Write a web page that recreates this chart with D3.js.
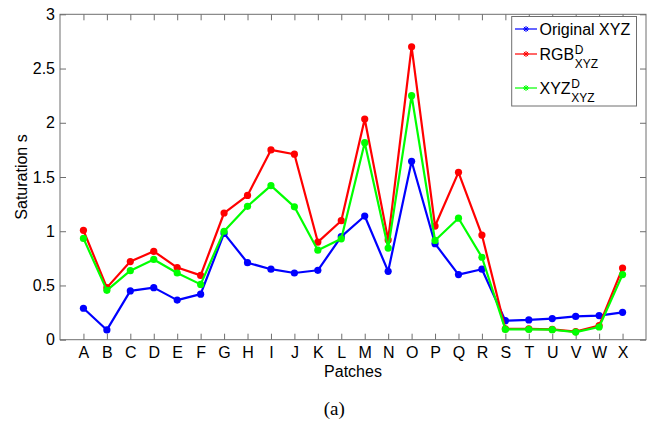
<!DOCTYPE html>
<html><head><meta charset="utf-8">
<script src="https://cdn.jsdelivr.net/npm/d3@7"></script>
<style>body{margin:0;background:#fff}svg{display:block}text{font-family:"Liberation Sans",Arial,sans-serif}</style>
</head><body>
<svg id="c" width="665" height="427"></svg>
<script>
const patches = ["A","B","C","D","E","F","G","H","I","J","K","L","M","N","O","P","Q","R","S","T","U","V","W","X"];
const originalXYZ = [0.29,0.09,0.45,0.48,0.365,0.42,0.98,0.71,0.65,0.615,0.64,0.95,1.14,0.63,1.645,0.885,0.60,0.65,0.175,0.182,0.195,0.215,0.222,0.252];
const rgbDXYZ = [1.008,0.48,0.72,0.815,0.665,0.593,1.168,1.33,1.75,1.71,0.90,1.097,2.034,0.92,2.70,1.048,1.543,0.965,0.10,0.10,0.095,0.075,0.13,0.66];
const xyzDXYZ = [0.934,0.455,0.636,0.74,0.615,0.51,1.0,1.23,1.42,1.225,0.825,0.93,1.816,0.845,2.25,0.915,1.12,0.76,0.095,0.095,0.092,0.07,0.117,0.60];
const yTicks = [0,0.5,1,1.5,2,2.5,3];
const yTickLabels = ["0","0.5","1","1.5","2","2.5","3"];

const series = [
  {name:"Original XYZ", base:"Original XYZ", values: originalXYZ, color:"#0000ff"},
  {name:"RGB_XYZ^D", base:"RGB", values: rgbDXYZ, color:"#ff0000"},
  {name:"XYZ_XYZ^D", base:"XYZ", values: xyzDXYZ, color:"#00ff00"}
];

const svg = d3.select("#c");
const L = 60, R = 646, T = 14.3, B = 339.7;
const x = d3.scaleLinear().domain([0,25]).range([L,R]);
const y = d3.scaleLinear().domain([0,3]).range([B,T]);
const axisCol = "#6e6e6e";
const fs = 16;
const sans = '"Liberation Sans", Arial, sans-serif';

const idx = d3.range(1,25);
const gB = svg.append("g").attr("transform",`translate(0,${B})`)
  .call(d3.axisBottom(x).tickValues(idx).tickFormat(i=>patches[i-1]).tickSizeInner(-6).tickSizeOuter(0).tickPadding(7));
const gT = svg.append("g").attr("transform",`translate(0,${T})`)
  .call(d3.axisTop(x).tickValues(idx).tickFormat("").tickSizeInner(-6).tickSizeOuter(0));
const gL = svg.append("g").attr("transform",`translate(${L},0)`)
  .call(d3.axisLeft(y).tickValues(yTicks).tickFormat((d,i)=>yTickLabels[i]).tickSizeInner(-6).tickSizeOuter(0).tickPadding(5));
const gR = svg.append("g").attr("transform",`translate(${R},0)`)
  .call(d3.axisRight(y).tickValues(yTicks).tickFormat("").tickSizeInner(-6).tickSizeOuter(0));
[gB,gT,gL,gR].forEach(g=>{
  g.attr("font-family",null).attr("font-size",null);
  g.select(".domain").remove();
  g.selectAll(".tick line").attr("stroke",axisCol);
  g.selectAll("text").attr("fill","#000").style("font-size",fs+"px").style("font-family",sans);
});
svg.append("rect").attr("x",L).attr("y",T).attr("width",R-L).attr("height",B-T)
  .attr("fill","none").attr("stroke",axisCol).attr("stroke-width",1);

const line = d3.line().x((d,i)=>x(i+1)).y(d=>y(d));
series.forEach(s=>{
  const g = svg.append("g");
  g.append("path").datum(s.values).attr("d",line).attr("fill","none")
    .attr("stroke",s.color).attr("stroke-width",2.2).attr("stroke-linejoin","round");
  g.selectAll("circle").data(s.values).join("circle")
    .attr("cx",(d,i)=>x(i+1)).attr("cy",d=>y(d)).attr("r",3.6).attr("fill",s.color);
});

svg.append("text").attr("x",(L+R)/2).attr("y",377).attr("text-anchor","middle")
  .style("font-size",fs+"px").style("font-family",sans).text("Patches");
svg.append("text").attr("transform",`translate(27,${(T+B)/2}) rotate(-90)`).attr("text-anchor","middle")
  .style("font-size",fs+"px").style("font-family",sans).text("Saturation s");
svg.append("text").attr("x",334.2).attr("y",415).attr("text-anchor","middle")
  .style("font-size","19px").style("font-family",'"Liberation Serif", "Times New Roman", serif').text("(a)");

const lg = svg.append("g");
lg.append("rect").attr("x",511.7).attr("y",16.5).attr("width",124.8).attr("height",89.5)
  .attr("fill","#fff").attr("stroke",axisCol).attr("stroke-width",1);
const rows = [35,60,94];
series.forEach((s,k)=>{
  const by = rows[k];
  const ly = by-6;
  lg.append("line").attr("x1",515).attr("x2",537).attr("y1",ly).attr("y2",ly)
    .attr("stroke",s.color).attr("stroke-width",1.2);
  const mx = 526, r = 3;
  [0,45,90,135].forEach(a=>{
    const rad = a*Math.PI/180;
    lg.append("line").attr("x1",mx-r*Math.cos(rad)).attr("x2",mx+r*Math.cos(rad))
      .attr("y1",ly-r*Math.sin(rad)).attr("y2",ly+r*Math.sin(rad))
      .attr("stroke",s.color).attr("stroke-width",1);
  });
  const t = lg.append("text").attr("x",539.5).attr("y",by).style("font-size",fs+"px").style("font-family",sans).text(s.base);
  if(k>0){
    const w = t.node().getComputedTextLength();
    lg.append("text").attr("x",539.5+w+0.5).attr("y",by-6).style("font-size","12px").style("font-family",sans).text("D");
    lg.append("text").attr("x",539.5+w+0.5).attr("y",by+8).style("font-size","12px").style("font-family",sans).text("XYZ");
  }
});
</script>
</body></html>
